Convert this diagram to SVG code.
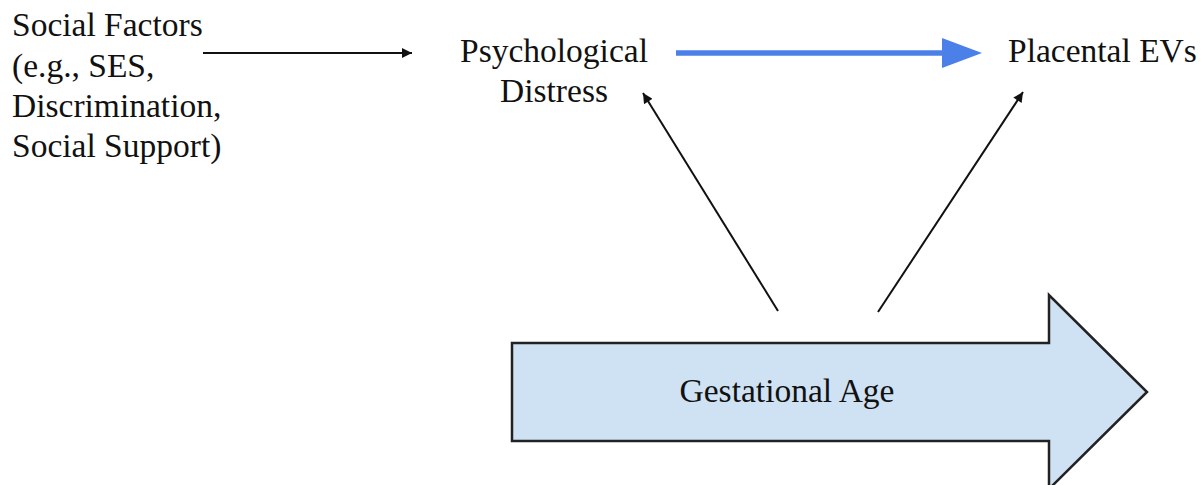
<svg xmlns="http://www.w3.org/2000/svg" width="1202" height="485" viewBox="0 0 1202 485">
  <style>
    text { font-family: 'Liberation Serif', 'Tinos', 'DejaVu Serif', 'Times New Roman', Times, serif; font-size: 33.5px; fill: #111; }
    .thin { stroke: #111; stroke-width: 2; fill: none; }
    .blue { stroke: #4a80e8; stroke-width: 5.5; fill: none; }
  </style>
  <defs>
    <marker id="headBlack" viewBox="0 0 10 10" refX="10" refY="5" markerWidth="6" markerHeight="5" markerUnits="strokeWidth" orient="auto">
      <path d="M0,0 L10,5 L0,10 Z" fill="#111"/>
    </marker>
  </defs>
  <rect width="1202" height="485" fill="#fff"/>

  <g id="gestational-age">
    <polygon points="512,343 1049,343 1049,295 1147,392 1049,489 1049,441 512,441" fill="#cfe2f3" stroke="#222" stroke-width="2.5" stroke-linejoin="miter"/>
    <text x="787" y="402" text-anchor="middle" font-family="Liberation Serif, serif">Gestational Age</text>
  </g>

  <g id="social-factors" font-family="Liberation Serif, serif">
    <text x="12" y="36">Social Factors</text>
    <text x="12" y="77">(e.g., SES,</text>
    <text x="12" y="117">Discrimination,</text>
    <text x="12" y="157">Social Support)</text>
  </g>

  <g id="psychological-distress">
    <text x="554" y="62" text-anchor="middle">Psychological</text>
    <text x="554" y="102" text-anchor="middle">Distress</text>
  </g>

  <g id="placental-evs">
    <text x="1008" y="62">Placental EVs</text>
  </g>

  <g id="connectors">
    <line class="thin" x1="203" y1="53" x2="412" y2="53" marker-end="url(#headBlack)"/>
    <line class="blue" x1="676" y1="53" x2="945" y2="53"/>
    <polygon points="942,38 982,53 942,68" fill="#4a80e8"/>
    <line class="thin" x1="778" y1="311" x2="643" y2="93" marker-end="url(#headBlack)"/>
    <line class="thin" x1="878" y1="312" x2="1023" y2="92" marker-end="url(#headBlack)"/>
  </g>
</svg>
